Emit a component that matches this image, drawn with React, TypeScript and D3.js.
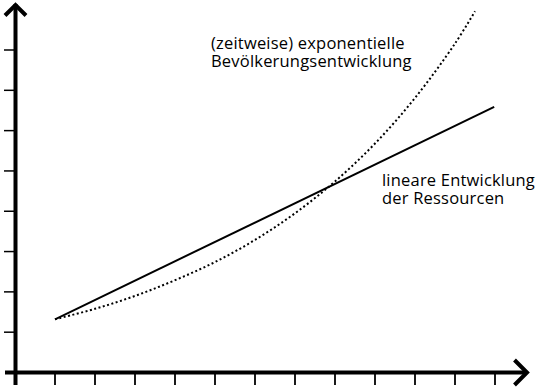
import React from "react";
import * as d3 from "d3";

const W = 542;
const H = 391;

// x: time step index, y: quantity (in tick units)
const xTicks = [0, 1, 2, 3, 4, 5, 6, 7, 8, 9, 10, 11];
const yTicks = [1, 2, 3, 4, 5, 6, 7, 8];

const linearT = [0, 10.98];
const linearV = [1.32, 6.59];

const expT = [0, 1, 2, 3, 4, 5, 6, 7, 8, 9, 10, 10.5];
const expV = [1.32, 1.58, 1.9, 2.29, 2.74, 3.29, 3.95, 4.74, 5.68, 6.81, 8.16, 8.96];

const labelExp = ["(zeitweise) exponentielle", "Bevölkerungsentwicklung"];
const labelLin = ["lineare Entwicklung", "der Ressourcen"];

export default function App() {
  const x = d3.scaleLinear().domain([0, 11]).range([55, 495]);
  const y = d3.scaleLinear().domain([0, 8]).range([372.5, 50]);

  const line = d3
    .line<[number, number]>()
    .x((d) => x(d[0]))
    .y((d) => y(d[1]));
  const curve = d3
    .line<[number, number]>()
    .x((d) => x(d[0]))
    .y((d) => y(d[1]))
    .curve(d3.curveCatmullRom.alpha(0.5));

  const linPts = linearT.map((t, i) => [t, linearV[i]] as [number, number]);
  const expPts = expT.map((t, i) => [t, expV[i]] as [number, number]);

  const axisX = 15.5;
  const axisY = y(0);
  const font = "'Open Sans', sans-serif";
  const fs = 16.5;

  return (
    <svg
      width={W}
      height={H}
      style={{ position: "absolute", left: 0, top: 0, background: "#fff" }}
    >
      {/* y ticks */}
      {yTicks.map((v) => (
        <line key={"yt" + v} x1={4} x2={15} y1={y(v)} y2={y(v)} stroke="#000" strokeWidth={1.5} />
      ))}
      {/* x ticks */}
      {xTicks.map((t) => (
        <line key={"xt" + t} x1={x(t)} x2={x(t)} y1={373} y2={385} stroke="#000" strokeWidth={1.8} />
      ))}
      {/* axes */}
      <line x1={axisX} x2={axisX} y1={4} y2={385} stroke="#000" strokeWidth={4} />
      <line x1={5} x2={527} y1={axisY} y2={axisY} stroke="#000" strokeWidth={4} />
      <polyline
        points={`5,15.5 ${axisX},5 26,15.5`}
        fill="none"
        stroke="#000"
        strokeWidth={4}
      />
      <polyline
        points={`514.5,${axisY - 12.5} 527,${axisY} 514.5,${axisY + 12.5}`}
        fill="none"
        stroke="#000"
        strokeWidth={4}
      />
      {/* series */}
      <path d={line(linPts) || ""} fill="none" stroke="#000" strokeWidth={2} />
      <path
        d={curve(expPts) || ""}
        fill="none"
        stroke="#000"
        strokeWidth={2}
        strokeDasharray="2,2.5"
      />
      {/* labels */}
      <text fontFamily={font} fontSize={fs} fill="#000" letterSpacing={0.2}>
        <tspan x={211} y={49}>{labelExp[0]}</tspan>
        <tspan x={211} y={67}>{labelExp[1]}</tspan>
      </text>
      <text fontFamily={font} fontSize={fs} fill="#000" letterSpacing={0.2}>
        <tspan x={382} y={186}>{labelLin[0]}</tspan>
        <tspan x={382} y={204}>{labelLin[1]}</tspan>
      </text>
    </svg>
  );
}
